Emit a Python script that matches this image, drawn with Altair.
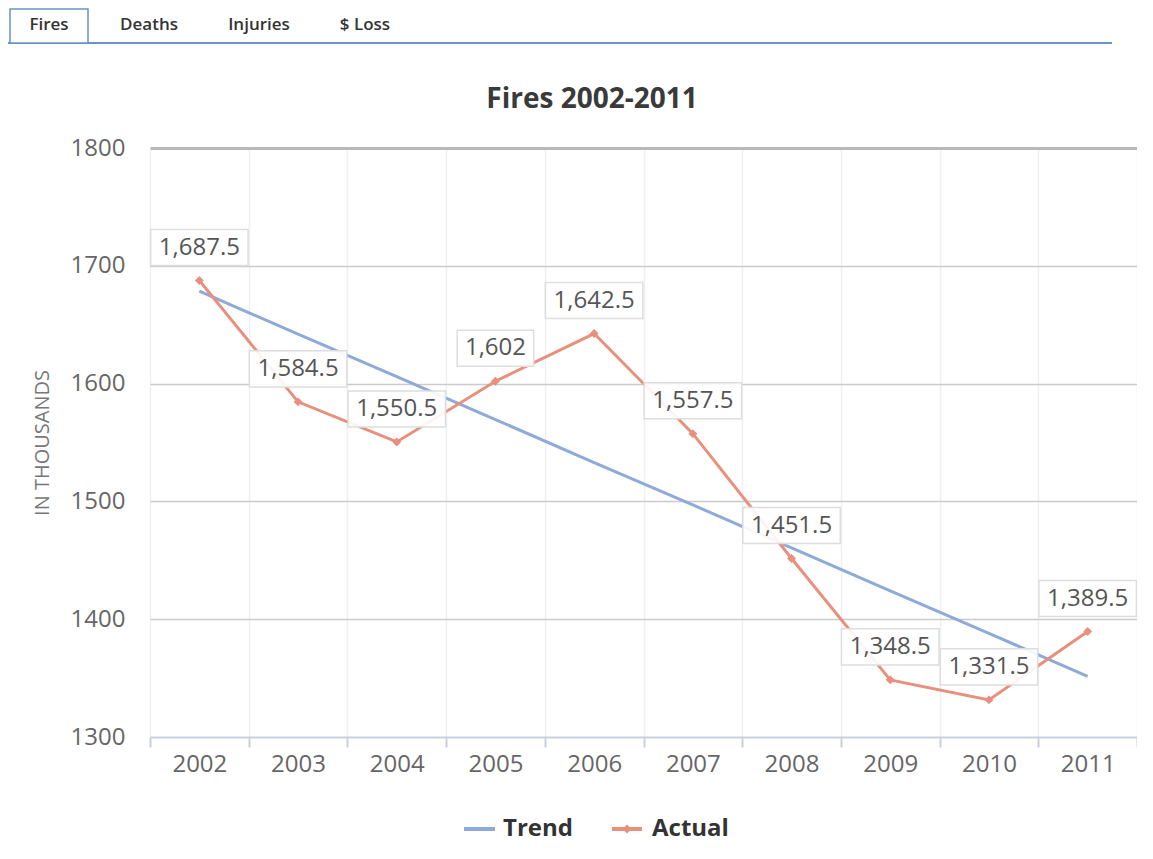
import altair as alt
import pandas as pd

# ---- data ----
YEARS = ["2002", "2003", "2004", "2005", "2006", "2007", "2008", "2009", "2010", "2011"]
ACTUAL = [1687.5, 1584.5, 1550.5, 1602, 1642.5, 1557.5, 1451.5, 1348.5, 1331.5, 1389.5]
TREND = [1678.5, 1642, 1606, 1569.5, 1533, 1497, 1460.5, 1424, 1388, 1351.5]
Y_TICKS = [1300, 1400, 1500, 1600, 1700, 1800]
TABS = ["Fires", "Deaths", "Injuries", "$ Loss"]
SERIES = ["Trend", "Actual"]
TITLE = "Fires 2002-2011"
Y_TITLE = "IN THOUSANDS"

df = pd.DataFrame({"year": YEARS, "actual": ACTUAL, "trend": TREND})

W, H = 987, 589
FONT = "Open Sans"
TREND_C = "#8eaad9"
ACTUAL_C = "#e8907d"
TAB_BLUE = "#6a93c9"

xscale = alt.Scale(type="band", paddingInner=0, paddingOuter=0)
yscale = alt.Scale(domain=[1300, 1800], nice=False, zero=False)

x_axis = alt.Axis(
    labelFontSize=24, labelColor="#666666", labelFont=FONT, labelAngle=0,
    labelPadding=5, domainColor="#c7d1e2", domainWidth=2,
    tickColor="#c7d1e2", tickWidth=2, tickSize=10, tickBand="extent",
    grid=True, gridColor="#eef0f4", gridWidth=1.5,
)
y_axis = alt.Axis(
    values=Y_TICKS, format="d", labelFontSize=24, labelColor="#666666",
    labelFont=FONT, ticks=False, domain=False, labelPadding=25, grid=True,
    gridColor={"condition": {"test": "datum.value === 1800", "value": "#b8b8b8"}, "value": "#cbcbcb"},
    gridWidth={"condition": {"test": "datum.value === 1800", "value": 3}, "value": 1.5},
    gridOpacity={"condition": {"test": "datum.value === 1300", "value": 0}, "value": 1},
    titleFontSize=20, titleColor="#777777", titleFont=FONT, titleFontWeight="normal",
    titleX=-108, titleY=H / 2, titleAlign="center", titleBaseline="middle",
)

base = alt.Chart(df)

trend_line = base.mark_line(color=TREND_C, strokeWidth=3).encode(
    x=alt.X("year:O", scale=xscale, axis=x_axis, title=None, bandPosition=0.5),
    y=alt.Y("trend:Q", scale=yscale, axis=y_axis, title=Y_TITLE),
)
actual_line = base.mark_line(color=ACTUAL_C, strokeWidth=3).encode(
    x=alt.X("year:O", scale=xscale, title=None, bandPosition=0.5),
    y=alt.Y("actual:Q", scale=yscale, title=Y_TITLE),
)
actual_pts = base.mark_point(shape="diamond", filled=True, size=80, opacity=1, color=ACTUAL_C).encode(
    x=alt.X("year:O", scale=xscale, title=None, bandPosition=0.5),
    y=alt.Y("actual:Q", scale=yscale, title=Y_TITLE),
)
label_boxes = base.transform_calculate(
    lo="datum.actual - 15.3",
    hi="datum.actual + 15.3",
    bw="10.5 * length(format(datum.actual, ',')) + 24",
).mark_bar(fill="white", fillOpacity=0.9, stroke="#dddddd", strokeWidth=1.5,
           yOffset=-33, y2Offset=-33).encode(
    x=alt.X("year:O", scale=xscale, title=None),
    y=alt.Y("lo:Q", scale=yscale, title=Y_TITLE),
    y2="hi:Q",
    size=alt.Size("bw:Q", scale=None),
)
label_text = base.mark_text(dy=-33, fontSize=24, color="#555555", font=FONT).encode(
    x=alt.X("year:O", scale=xscale, title=None, bandPosition=0.5),
    y=alt.Y("actual:Q", scale=yscale, title=Y_TITLE),
    text=alt.Text("actual:Q", format=","),
)


def one(txt):
    return alt.Chart(alt.Data(values=[{"t": txt}]))


def deco_text(txt, xv, yv, **kw):
    return one(txt).mark_text(font=FONT, baseline="middle", **kw).encode(
        x=alt.value(xv), y=alt.value(yv), text="t:N")


# tab strip
tab_line = one("line").mark_rule(color=TAB_BLUE, strokeWidth=2).encode(
    x=alt.value(-150), x2=alt.value(962), y=alt.value(-105))
tab_box = one("box").mark_rect(fill="white", stroke=TAB_BLUE, strokeWidth=1.5).encode(
    x=alt.value(-140), x2=alt.value(-62), y=alt.value(-139), y2=alt.value(-105))
tab_x = [-101, -1, 109, 215]
tabs = [deco_text(t, xv, -123, fontSize=17, fontWeight=600, color="#333333", align="center")
        for t, xv in zip(TABS, tab_x)]

title = deco_text(TITLE, 442, -48, fontSize=28, fontWeight="bold", color="#3a3a3a", align="center")

# legend
LEG_Y = 681
leg_trend_sym = one("s").mark_rule(color=TREND_C, strokeWidth=4).encode(
    x=alt.value(314), x2=alt.value(345), y=alt.value(LEG_Y))
leg_trend_txt = deco_text(SERIES[0], 353, LEG_Y, fontSize=24, fontWeight="bold", color="#333333", align="left")
leg_act_sym = one("s").mark_rule(color=ACTUAL_C, strokeWidth=4).encode(
    x=alt.value(462), x2=alt.value(492), y=alt.value(LEG_Y))
leg_act_pt = one("p").mark_point(shape="diamond", filled=True, size=80, opacity=1, color=ACTUAL_C).encode(
    x=alt.value(477), y=alt.value(LEG_Y))
leg_act_txt = deco_text(SERIES[1], 502, LEG_Y, fontSize=24, fontWeight="bold", color="#333333", align="left")

chart = alt.layer(
    trend_line, actual_line, actual_pts, label_boxes, label_text,
    tab_line, tab_box, *tabs, title,
    leg_trend_sym, leg_trend_txt, leg_act_sym, leg_act_pt, leg_act_txt,
).properties(
    width=W, height=H,
    autosize=alt.AutoSizeParams(type="none"),
    padding={"left": 142, "top": 140, "right": 0, "bottom": 108},
).configure(font=FONT).configure_view(stroke=None)

chart.save("out.html", embed_options={"renderer": "svg", "actions": False})
